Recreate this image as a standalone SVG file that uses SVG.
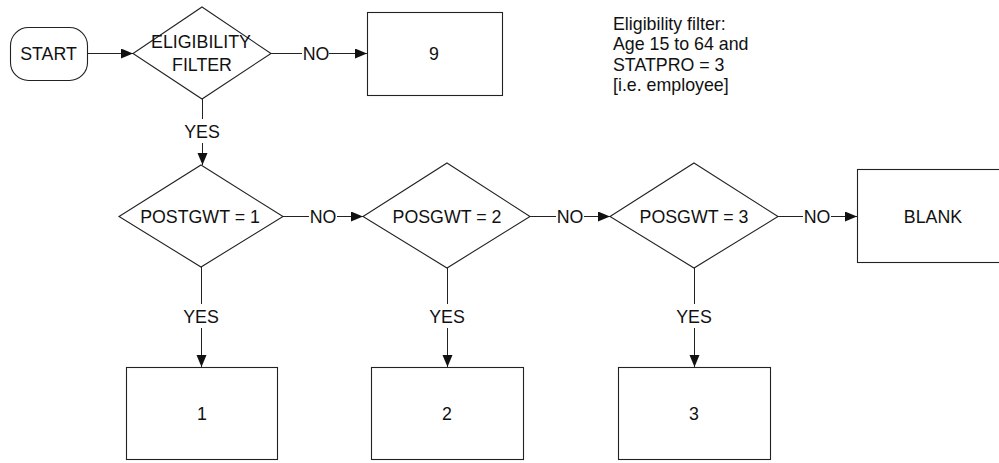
<svg xmlns="http://www.w3.org/2000/svg" width="999" height="463" viewBox="0 0 999 463">
  <style>
    .shape { fill: #fff; stroke: #222; stroke-width: 1.1; }
    .conn { fill: none; stroke: #222; stroke-width: 1; }
    text { font-family: "Liberation Sans", Arial, sans-serif; font-size: 17.8px; fill: #111; }
    .c { text-anchor: middle; }
  </style>
  <defs>
    <marker id="arrow" markerUnits="userSpaceOnUse" markerWidth="14" markerHeight="12" refX="12" refY="5" orient="auto">
      <path d="M0,0 L12,5 L0,10 Z" fill="#111"/>
    </marker>
  </defs>
  <rect width="999" height="463" fill="#fff"/>

  <g id="connectors">
    <path class="conn" d="M87,53.5 H133" marker-end="url(#arrow)"/>
    <path class="conn" d="M271,53.5 H302 M329,53.5 H367" marker-end="url(#arrow)"/>
    <path class="conn" d="M202.5,99 V119 M202.5,143 V165" marker-end="url(#arrow)"/>
    <path class="conn" d="M283,216.5 H309 M337,216.5 H363" marker-end="url(#arrow)"/>
    <path class="conn" d="M530,216.5 H556 M584,216.5 H610" marker-end="url(#arrow)"/>
    <path class="conn" d="M778,216.5 H803 M831,216.5 H857" marker-end="url(#arrow)"/>
    <path class="conn" d="M201.5,267 V304 M201.5,328 V367" marker-end="url(#arrow)"/>
    <path class="conn" d="M447.5,268 V304 M447.5,328 V367" marker-end="url(#arrow)"/>
    <path class="conn" d="M694.5,268 V304 M694.5,328 V367" marker-end="url(#arrow)"/>
    <text class="c" x="316" y="59.5">NO</text>
    <text class="c" x="202" y="138">YES</text>
    <text class="c" x="323" y="222.5">NO</text>
    <text class="c" x="570" y="222.5">NO</text>
    <text class="c" x="817" y="222.5">NO</text>
    <text class="c" x="201" y="323">YES</text>
    <text class="c" x="447" y="323">YES</text>
    <text class="c" x="694" y="323">YES</text>
  </g>

  <g id="start">
    <rect class="shape" x="10.5" y="27.5" width="77" height="53" rx="18" ry="18"/>
    <text class="c" x="48.5" y="59.5">START</text>
  </g>

  <g id="eligibility">
    <polygon class="shape" points="202,7 271,53.5 202,99 133,53.5"/>
    <text class="c" x="201" y="48">ELIGIBILITY</text>
    <text class="c" x="202" y="71">FILTER</text>
  </g>

  <g id="box9">
    <rect class="shape" x="367.5" y="12.5" width="135" height="83"/>
    <text class="c" x="434" y="60">9</text>
  </g>

  <g id="note">
    <text x="613" y="29.5">Eligibility filter:</text>
    <text x="613" y="50">Age 15 to 64 and</text>
    <text x="613" y="71">STATPRO = 3</text>
    <text x="613" y="91">[i.e. employee]</text>
  </g>

  <g id="posgwt1">
    <polygon class="shape" points="201,165 283,216.5 201,267 119,216.5"/>
    <text class="c" x="200" y="223">POSTGWT = 1</text>
  </g>

  <g id="posgwt2">
    <polygon class="shape" points="447,163 530,216.5 447,268 363,216.5"/>
    <text class="c" x="447" y="223">POSGWT = 2</text>
  </g>

  <g id="posgwt3">
    <polygon class="shape" points="694,163 778,216.5 694,268 610,216.5"/>
    <text class="c" x="694" y="223">POSGWT = 3</text>
  </g>

  <g id="blank">
    <rect class="shape" x="857.5" y="169.5" width="152" height="93"/>
    <text class="c" x="933" y="223">BLANK</text>
  </g>

  <g id="box1">
    <rect class="shape" x="126.5" y="367.5" width="151" height="92"/>
    <text class="c" x="202" y="419.5">1</text>
  </g>

  <g id="box2">
    <rect class="shape" x="371.5" y="367.5" width="152" height="92"/>
    <text class="c" x="447" y="419.5">2</text>
  </g>

  <g id="box3">
    <rect class="shape" x="618.5" y="367.5" width="152" height="92"/>
    <text class="c" x="694" y="419.5">3</text>
  </g>
</svg>
